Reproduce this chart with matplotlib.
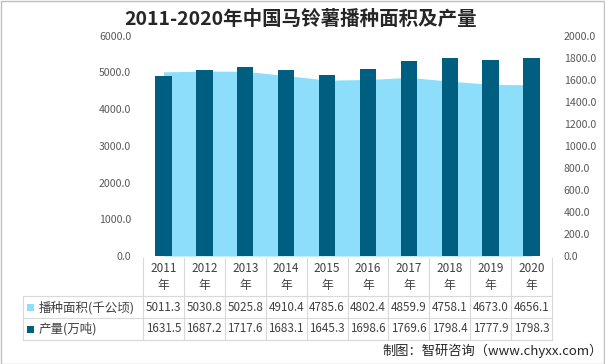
import matplotlib
matplotlib.use("Agg")
import matplotlib.pyplot as plt
from matplotlib.lines import Line2D
from matplotlib.patches import Rectangle

plt.rcParams["font.family"] = ["Noto Sans CJK SC", "DejaVu Sans"]

years = ["2011", "2012", "2013", "2014", "2015", "2016", "2017", "2018", "2019", "2020"]
area = [5011.3, 5030.8, 5025.8, 4910.4, 4785.6, 4802.4, 4859.9, 4758.1, 4673.0, 4656.1]
output = [1631.5, 1687.2, 1717.6, 1683.1, 1645.3, 1698.6, 1769.6, 1798.4, 1777.9, 1798.3]
area_label = "播种面积(千公顷)"
output_label = "产量(万吨)"

W, H = 605, 364
LIGHT = "#8DDEFB"
DARK = "#005F80"
GRID = "#D9D9D9"
TXT = "#404040"


def fx(x):
    return x / W


def fy(y):
    return 1 - y / H


fig = plt.figure(figsize=(W / 100, H / 100), dpi=100)

# plot area in pixel coords
left, right, top, bottom = 143, 552, 35.5, 256
ax1 = fig.add_axes([fx(left), fy(bottom), fx(right - left), (bottom - top) / H])
ax2 = ax1.twinx()

x = list(range(len(years)))
ax1.fill_between(x, area, 0, color=LIGHT, linewidth=0)
ax2.bar(x, output, width=0.4, color=DARK)

ax1.set_xlim(-0.5, len(years) - 0.5)
ax1.set_ylim(0, 6000)
ax2.set_ylim(0, 2000)
ax1.set_yticks(range(0, 6001, 1000))
ax2.set_yticks(range(0, 2001, 200))
ax1.set_yticklabels([f"{v:.1f}" for v in range(0, 6001, 1000)])
ax2.set_yticklabels([f"{v:.1f}" for v in range(0, 2001, 200)])
ax1.set_xticks([])
for ax in (ax1, ax2):
    for s in ax.spines.values():
        s.set_visible(False)
    ax.tick_params(axis="y", length=0, labelsize=7.6, labelcolor="#595959", pad=8.5)
    ax.patch.set_visible(False)

# title
fig.text(fx(301), fy(19), "2011-2020年中国马铃薯播种面积及产量", ha="center", va="center",
         fontsize=14, fontweight="bold", color="#262626")

# data table
col_w = (right - left) / len(years)
tab_left = 22.7
row_y = [258, 296, 318, 340]


def hline(y, x0, x1):
    fig.add_artist(Line2D([fx(x0), fx(x1)], [fy(y), fy(y)], color=GRID, lw=0.8))


def vline(x_, y0, y1):
    fig.add_artist(Line2D([fx(x_), fx(x_)], [fy(y0), fy(y1)], color=GRID, lw=0.8))


for y in row_y[1:]:
    hline(y, tab_left, right)
for i in range(len(years) + 1):
    vline(left + i * col_w, row_y[0], row_y[3])
vline(tab_left, row_y[1], row_y[3])

for i, yr in enumerate(years):
    cx = left + (i + 0.5) * col_w
    fig.text(fx(cx), fy(269), yr, ha="center", va="center", fontsize=8.5, color=TXT)
    fig.text(fx(cx), fy(285), "年", ha="center", va="center", fontsize=8.5, color=TXT)
    fig.text(fx(cx), fy(307.5), f"{area[i]:.1f}", ha="center", va="center", fontsize=8.4, color=TXT)
    fig.text(fx(cx), fy(329), f"{output[i]:.1f}", ha="center", va="center", fontsize=8.4, color=TXT)

for yc, lab, col in [(307.5, area_label, LIGHT), (329, output_label, DARK)]:
    fig.add_artist(Rectangle((fx(27), fy(yc + 3.5)), fx(7), 7 / H, color=col, lw=0))
    fig.text(fx(39), fy(yc), lab, ha="left", va="center", fontsize=9, color=TXT)

# footer
fig.text(fx(603), fy(351), "制图：智研咨询（www.chyxx.com）", ha="right", va="center",
         fontsize=9.5, color="#262626")

# outer border
fig.add_artist(Rectangle((0.001, 0.001), 0.997, 0.996, fill=False, edgecolor="#BFBFBF", lw=1))

fig.savefig("out.png", dpi=100)
